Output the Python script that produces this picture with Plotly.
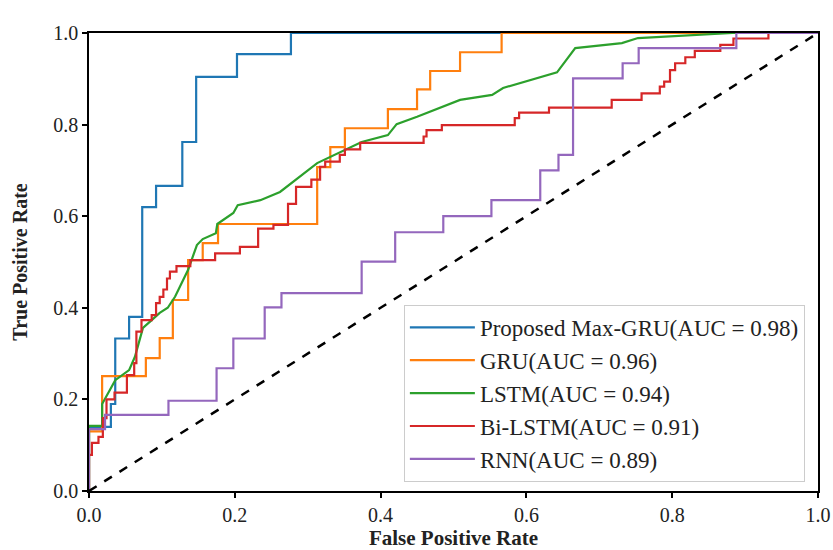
import plotly.graph_objects as go

# ---- data ----
names = ["Proposed Max-GRU(AUC = 0.98)", "GRU(AUC = 0.96)", "LSTM(AUC = 0.94)",
         "Bi-LSTM(AUC = 0.91)", "RNN(AUC = 0.89)"]
colors = ["#1f77b4", "#ff7f0e", "#2ca02c", "#d62728", "#9467bd"]

fpr_maxgru = [0, 0, 0.03, 0.03, 0.036, 0.036, 0.055, 0.055, 0.073, 0.073, 0.092, 0.092,
              0.128, 0.128, 0.147, 0.147, 0.203, 0.203, 0.277, 0.277, 1.0]
tpr_maxgru = [0, 0.14, 0.14, 0.19, 0.19, 0.333, 0.333, 0.38, 0.38, 0.62, 0.62, 0.666,
              0.666, 0.762, 0.762, 0.904, 0.904, 0.954, 0.954, 1.0, 1.0]

fpr_gru = [0, 0, 0.018, 0.018, 0.078, 0.078, 0.097, 0.097, 0.115, 0.115, 0.136, 0.136,
           0.156, 0.156, 0.177, 0.177, 0.313, 0.313, 0.331, 0.331, 0.351, 0.351, 0.41,
           0.41, 0.45, 0.45, 0.468, 0.468, 0.509, 0.509, 0.566, 0.566, 1.0]
tpr_gru = [0, 0.13, 0.13, 0.251, 0.251, 0.29, 0.29, 0.334, 0.334, 0.417, 0.417, 0.504,
           0.504, 0.541, 0.541, 0.583, 0.583, 0.707, 0.707, 0.751, 0.751, 0.792, 0.792,
           0.834, 0.834, 0.877, 0.877, 0.917, 0.917, 0.958, 0.958, 1.0, 1.0]

fpr_lstm = [0, 0, 0.018, 0.018, 0.036, 0.055, 0.063, 0.074, 0.086, 0.097, 0.108, 0.118,
            0.136, 0.148, 0.156, 0.174, 0.176, 0.198, 0.204, 0.235, 0.262, 0.313, 0.374,
            0.41, 0.422, 0.45, 0.509, 0.553, 0.568, 0.619, 0.642, 0.667, 0.731, 0.753,
            0.883, 1.0]
tpr_lstm = [0, 0.142, 0.142, 0.19, 0.242, 0.264, 0.293, 0.356, 0.373, 0.389, 0.40, 0.424,
            0.483, 0.537, 0.55, 0.563, 0.583, 0.607, 0.624, 0.635, 0.653, 0.716, 0.762,
            0.777, 0.801, 0.817, 0.854, 0.865, 0.88, 0.904, 0.914, 0.967, 0.978, 0.989,
            1.0, 1.0]

fpr_bilstm = [0, 0, 0.004, 0.004, 0.013, 0.013, 0.019, 0.019, 0.024, 0.024, 0.035, 0.035,
              0.052, 0.052, 0.062, 0.062, 0.065, 0.065, 0.072, 0.072, 0.086, 0.086, 0.092,
              0.092, 0.097, 0.097, 0.102, 0.102, 0.107, 0.107, 0.111, 0.111, 0.12, 0.12,
              0.139, 0.139, 0.173, 0.173, 0.207, 0.207, 0.232, 0.232, 0.253, 0.253, 0.273,
              0.273, 0.284, 0.284, 0.305, 0.305, 0.317, 0.317, 0.324, 0.324, 0.344, 0.344,
              0.351, 0.351, 0.372, 0.372, 0.459, 0.459, 0.463, 0.463, 0.484, 0.484, 0.584,
              0.584, 0.59, 0.59, 0.631, 0.631, 0.717, 0.717, 0.758, 0.758, 0.783, 0.783,
              0.789, 0.789, 0.797, 0.797, 0.804, 0.804, 0.818, 0.818, 0.831, 0.831, 0.866,
              0.866, 0.884, 0.884, 0.932, 0.932, 1.0]
tpr_bilstm = [0, 0.079, 0.079, 0.105, 0.105, 0.118, 0.118, 0.159, 0.159, 0.2, 0.2, 0.215,
              0.215, 0.253, 0.253, 0.279, 0.279, 0.348, 0.348, 0.373, 0.373, 0.384, 0.384,
              0.41, 0.41, 0.424, 0.424, 0.44, 0.44, 0.464, 0.464, 0.479, 0.479, 0.491,
              0.491, 0.504, 0.504, 0.519, 0.519, 0.533, 0.533, 0.573, 0.573, 0.581, 0.581,
              0.627, 0.627, 0.664, 0.664, 0.68, 0.68, 0.708, 0.708, 0.719, 0.719, 0.734,
              0.734, 0.746, 0.746, 0.76, 0.76, 0.774, 0.774, 0.788, 0.788, 0.799, 0.799,
              0.814, 0.814, 0.826, 0.826, 0.837, 0.837, 0.854, 0.854, 0.868, 0.868, 0.883,
              0.883, 0.894, 0.894, 0.919, 0.919, 0.934, 0.934, 0.947, 0.947, 0.961, 0.961,
              0.974, 0.974, 0.988, 0.988, 1.0, 1.0]

fpr_rnn = [0, 0, 0.022, 0.022, 0.109, 0.109, 0.175, 0.175, 0.198, 0.198, 0.241, 0.241,
           0.264, 0.264, 0.374, 0.374, 0.42, 0.42, 0.486, 0.486, 0.552, 0.552, 0.619,
           0.619, 0.644, 0.644, 0.664, 0.664, 0.732, 0.732, 0.754, 0.754, 0.888, 0.888, 1.0]
tpr_rnn = [0, 0.135, 0.135, 0.166, 0.166, 0.197, 0.197, 0.268, 0.268, 0.333, 0.333, 0.401,
           0.401, 0.432, 0.432, 0.501, 0.501, 0.565, 0.565, 0.6, 0.6, 0.635, 0.635, 0.7,
           0.7, 0.734, 0.734, 0.901, 0.901, 0.934, 0.934, 0.967, 0.967, 1.0, 1.0]

chance_x = [0, 1]
chance_y = [0, 1]

tick_vals = [0.0, 0.2, 0.4, 0.6, 0.8, 1.0]
tick_text = ["0.0", "0.2", "0.4", "0.6", "0.8", "1.0"]

series = [(fpr_maxgru, tpr_maxgru), (fpr_gru, tpr_gru), (fpr_lstm, tpr_lstm),
          (fpr_bilstm, tpr_bilstm), (fpr_rnn, tpr_rnn)]

FONT = "Liberation Serif, Times New Roman, serif"

fig = go.Figure()
for (fx, ty), name, col in zip(series, names, colors):
    fig.add_trace(go.Scatter(x=fx, y=ty, mode="lines", name=name,
                             line=dict(color=col, width=2.2)))
fig.add_trace(go.Scatter(x=chance_x, y=chance_y, mode="lines", showlegend=False,
                         line=dict(color="black", width=2.5, dash="dash")))

axis_common = dict(
    range=[0, 1], showgrid=False, zeroline=False, showline=True, linecolor="black",
    linewidth=1.5, mirror=True, ticks="outside", ticklen=5, tickwidth=1.5,
    tickcolor="black", tickvals=tick_vals, ticktext=tick_text, automargin=False,
    tickfont=dict(family=FONT, size=20, color="#222222"),
)

fig.update_layout(
    width=833, height=550,
    margin=dict(l=89, r=15, t=33, b=59),
    paper_bgcolor="white", plot_bgcolor="white",
    font=dict(family=FONT, color="#222222"),
    xaxis=dict(**axis_common,
               title=dict(text="<b>False Positive Rate</b>",
                          font=dict(family=FONT, size=21, color="#222222"),
                          standoff=7)),
    yaxis=dict(**axis_common,
               title=dict(text="<b>True Positive Rate</b>",
                          font=dict(family=FONT, size=20, color="#222222"),
                          standoff=20)),
    legend=dict(x=0.982, xanchor="right", y=0.02, yanchor="bottom",
                bgcolor="white", bordercolor="#cccccc", borderwidth=1,
                font=dict(family=FONT, size=23, color="#222222"),
                itemwidth=65, tracegroupgap=0),
    showlegend=True,
)

fig.write_html("out.html")
